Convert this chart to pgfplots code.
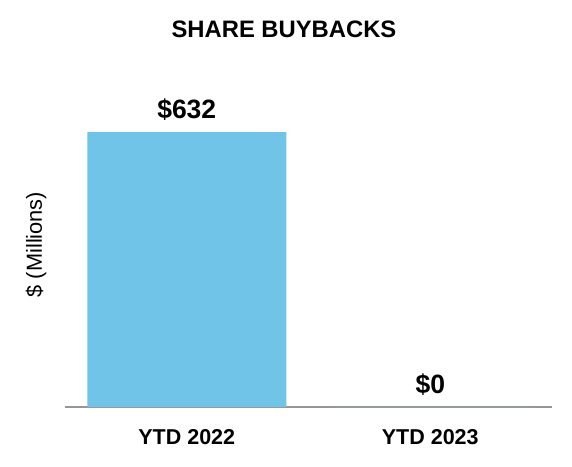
\documentclass[border=0pt]{standalone}
\usepackage{pgfplots}
\pgfplotsset{compat=1.18}
\usepackage{fontspec}
\setmainfont{Liberation Sans}
\definecolor{barblue}{RGB}{112,196,232}
\definecolor{basegray}{RGB}{150,150,150}
\begin{document}
\begin{tikzpicture}[x=1pt,y=1pt]
\useasboundingbox (0,0) rectangle (572,466);
\node[font=\fontsize{23.8}{28}\selectfont\bfseries] at (284,436.5) {SHARE BUYBACKS};
\node[font=\fontsize{21.8}{26}\selectfont, rotate=90] at (36,221.5) {\$ (Millions)};
\begin{axis}[
  at={(65pt,59pt)}, anchor=south west,
  scale only axis, width=487pt, height=275pt,
  xmin=-0.5, xmax=1.5, ymin=0, ymax=632,
  axis y line=none, axis x line*=bottom,
  x axis line style={basegray, line width=1.5pt, -},
  xtick=data, xticklabels={YTD 2022, YTD 2023},
  major tick length=0pt,
  xticklabel style={font=\fontsize{21.5}{25}\selectfont\bfseries, anchor=base, yshift=-37.5pt},
  ybar, bar width=199pt,
  clip=false,
  nodes near coords={\$\pgfmathprintnumber{\pgfplotspointmeta}},
  nodes near coords style={font=\fontsize{26.5}{30}\selectfont\bfseries, anchor=base, yshift=14pt, /pgf/number format/assume math mode=true},
]
\addplot[fill=barblue, draw=none] coordinates {(0,632) (1,0)};
\end{axis}
\end{tikzpicture}
\end{document}
